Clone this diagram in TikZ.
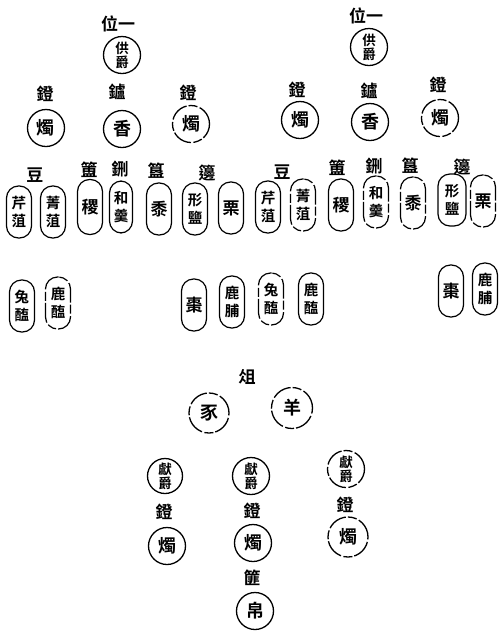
\documentclass[tikz,border=0pt]{standalone}
\usepackage{fontspec}
\newfontfamily\cjk{Noto Sans CJK TC}[BoldFont={Noto Sans CJK TC Bold}]
\tikzset{
  lbl/.style={font=\cjk\bfseries\fontsize{17}{17}\selectfont, inner sep=0pt},
  circ/.style={circle, draw, line width=1.3pt, minimum size=37pt, inner sep=0pt, align=center,
    font=\cjk\bfseries\fontsize{18}{18}\selectfont},
  circtwo/.style={circ, font=\cjk\bfseries\fontsize{13.5}{14}\selectfont},
  ov/.style={draw, rounded corners=12pt, minimum width=25pt, minimum height=52pt, inner sep=0pt,
    line width=1.2pt, align=center, font=\cjk\bfseries\fontsize{14.5}{18.5}\selectfont},
  ovone/.style={ov, font=\cjk\bfseries\fontsize{17}{17}\selectfont},
  broken/.style={dash pattern=on 20pt off 2.5pt on 9pt off 2pt}
}
\begin{document}
\begin{tikzpicture}[x=1pt,y=-1pt]
\useasboundingbox (0,0) rectangle (499,633);
% ---------- top left ----------
\node[lbl] (tlwei) at (118,24) {位一};
\node[circtwo] (tljue) at (122,55) {供\\爵};
\node[lbl] (tldeng1) at (45,94) {鐙};
\node[circ] (tlzhu1) at (46,128) {燭};
\node[lbl] (tllu) at (117,92) {鑪};
\node[circ] (tlxiang) at (122,129) {香};
\node[lbl] (tldeng2) at (188,93) {鐙};
\node[circ, broken] (tlzhu2) at (191,124) {燭};
% ---------- top right ----------
\node[lbl] (trwei) at (366,16) {位一};
\node[circtwo] (trjue) at (369,47) {供\\爵};
\node[lbl] (trdeng1) at (297,90) {鐙};
\node[circ] (trzhu1) at (300,120) {燭};
\node[lbl] (trlu) at (369,91) {鑪};
\node[circ] (trxiang) at (370,122) {香};
\node[lbl] (trdeng2) at (438,85) {鐙};
\node[circ, broken] (trzhu2) at (440,118) {燭};
% ---------- row 3 left ----------
\node[lbl] (ldou) at (35,175) {豆};
\node[ov] (lo1) at (19,212) {芹\\菹};
\node[ov] (lo2) at (53,212) {菁\\菹};
\node[lbl] (lfu) at (89,170) {簠};
\node[ovone, minimum height=55pt] (lo3) at (90,207) {稷};
\node[lbl] (lxing) at (120,169) {鉶};
\node[ov, minimum width=23pt] (lo4) at (121,207) {和\\羹};
\node[lbl] (lgui) at (156,171) {簋};
\node[ovone] (lo5) at (159,209) {黍};
\node[lbl] (lbian) at (207,173) {籩};
\node[ov] (lo6) at (195,209) {形\\鹽};
\node[ovone] (lo7) at (231,208) {栗};
% ---------- row 3 right ----------
\node[lbl] (rdou) at (282,172) {豆};
\node[ov] (ro1) at (268,207) {芹\\菹};
\node[ov, broken] (ro2) at (303,205) {菁\\菹};
\node[lbl] (rfu) at (337,168) {簠};
\node[ovone] (ro3) at (341,205) {稷};
\node[lbl] (rxing) at (374,166) {鉶};
\node[ov, broken] (ro4) at (376,202) {和\\羹};
\node[lbl] (rgui) at (410,166) {簋};
\node[ovone, broken] (ro5) at (413,203) {黍};
\node[lbl] (rbian) at (462,167) {籩};
\node[ov, minimum width=28pt] (ro6) at (452,200) {形\\鹽};
\node[ovone, broken] (ro7) at (483,201) {栗};
% ---------- row 4 ----------
\node[ov] (lo8) at (22,306) {兔\\醢};
\node[ov, broken] (lo9) at (58,303) {鹿\\醢};
\node[ovone] (lo10) at (194,305) {棗};
\node[ov] (lo11) at (232,302) {鹿\\脯};
\node[ov, broken] (ro8) at (271,299) {兔\\醢};
\node[ov] (ro9) at (311,299) {鹿\\醢};
\node[ovone] (ro10) at (451,291) {棗};
\node[ov] (ro11) at (485,289) {鹿\\脯};
% ---------- bottom ----------
\node[lbl] (zu) at (247,377) {俎};
\node[circ, broken, minimum size=40pt] (shi) at (209,413) {豕};
\node[circ, broken, minimum size=41pt] (yang) at (292,408) {羊};
\node[circtwo, minimum size=35pt] (xj1) at (165,476) {獻\\爵};
\node[lbl] (bd1) at (164,512) {鐙};
\node[circ] (bz1) at (167,546) {燭};
\node[circtwo] (xj2) at (251,476) {獻\\爵};
\node[lbl] (bd2) at (252,511) {鐙};
\node[circ] (bz2) at (253,543) {燭};
\node[lbl] (fei) at (252,578) {篚};
\node[circ] (bo) at (255,611) {帛};
\node[circtwo, broken] (xj3) at (346,469) {獻\\爵};
\node[lbl] (bd3) at (345,505) {鐙};
\node[circ, broken, minimum size=40pt] (bz3) at (348,537) {燭};
\end{tikzpicture}
\end{document}
